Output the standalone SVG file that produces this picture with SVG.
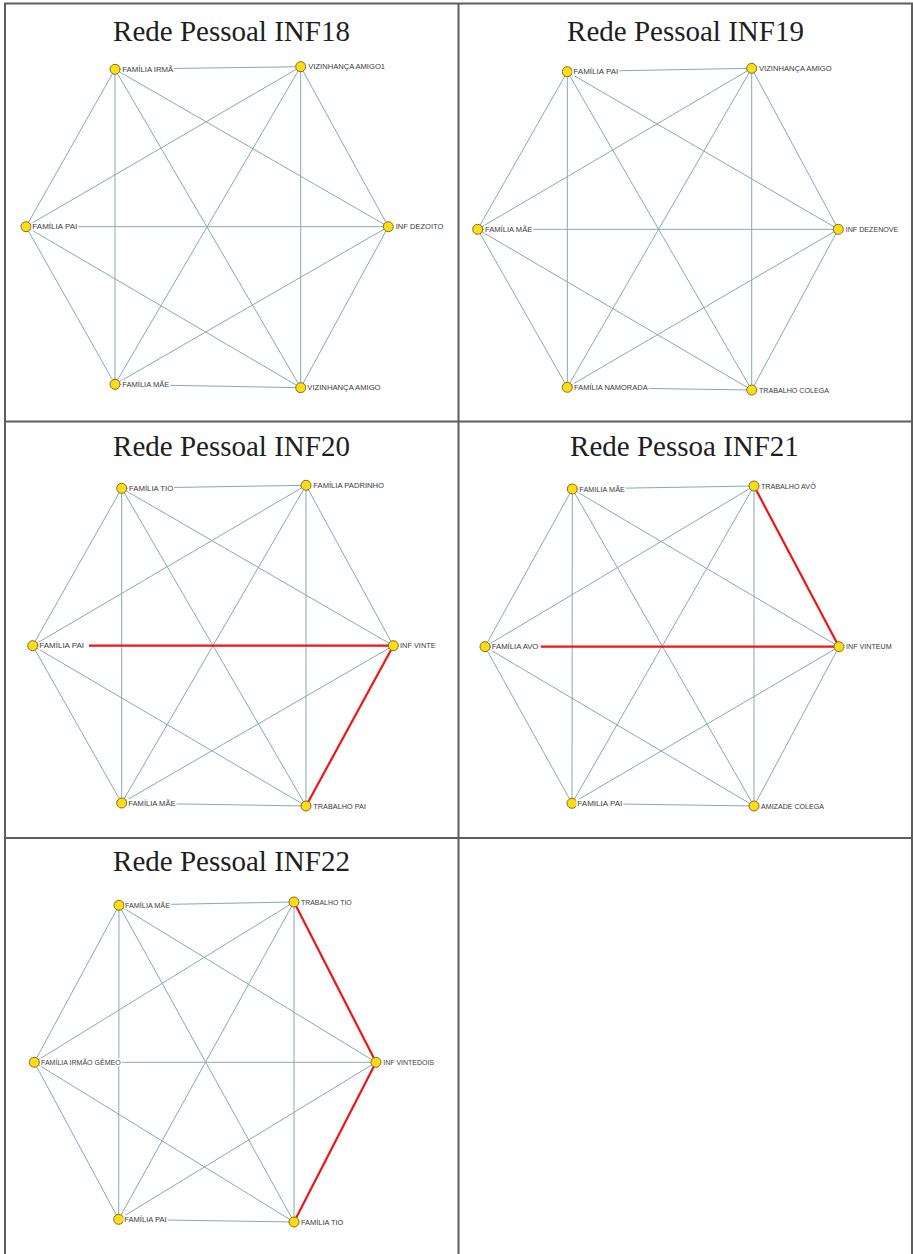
<svg xmlns="http://www.w3.org/2000/svg" width="913" height="1254" viewBox="0 0 913 1254">
<style>
.bg{fill:#ffffff}
.b{stroke:#5e5e5e;stroke-width:2;fill:none}
.t{font-family:"Liberation Serif","Times New Roman",serif;font-size:29px;fill:#1e1e1e;text-anchor:middle}
.e{stroke:#86aab3;stroke-width:1;fill:none}
.r{stroke:#ee1515;stroke-width:2.2;fill:none}
.n{fill:#ffdd10;stroke:#7d6d2c;stroke-width:1}
.lb{fill:#ffffff}
.lt{font-family:"Liberation Sans",Arial,sans-serif;font-size:7px;fill:#3a3a3a}
</style>
<rect class="bg" x="0" y="0" width="913" height="1254"/>

<g id="panel-inf18">
<text class="t" x="231.5" y="40.5">Rede Pessoal INF18</text>
<g id="inf18-connectors">
<line class="e" x1="115" y1="69.3" x2="300.7" y2="66.7"/>
<line class="e" x1="115" y1="69.3" x2="26" y2="226.7"/>
<line class="e" x1="115" y1="69.3" x2="388.3" y2="226.7"/>
<line class="e" x1="115" y1="69.3" x2="115" y2="384.3"/>
<line class="e" x1="115" y1="69.3" x2="300.7" y2="387.7"/>
<line class="e" x1="300.7" y1="66.7" x2="26" y2="226.7"/>
<line class="e" x1="300.7" y1="66.7" x2="388.3" y2="226.7"/>
<line class="e" x1="300.7" y1="66.7" x2="115" y2="384.3"/>
<line class="e" x1="300.7" y1="66.7" x2="300.7" y2="387.7"/>
<line class="e" x1="26" y1="226.7" x2="388.3" y2="226.7"/>
<line class="e" x1="26" y1="226.7" x2="115" y2="384.3"/>
<line class="e" x1="26" y1="226.7" x2="300.7" y2="387.7"/>
<line class="e" x1="388.3" y1="226.7" x2="115" y2="384.3"/>
<line class="e" x1="388.3" y1="226.7" x2="300.7" y2="387.7"/>
<line class="e" x1="115" y1="384.3" x2="300.7" y2="387.7"/>
</g>
<g id="inf18-familia-irma"><circle class="n" cx="115" cy="69.3" r="5"/><rect class="lb" x="121.3" y="65.3" width="53" height="8"/><text class="lt" x="122.3" y="71.8" textLength="51" lengthAdjust="spacingAndGlyphs">FAMÍLIA IRMÃ</text></g>
<g id="inf18-vizinhanca-amigo1"><circle class="n" cx="300.7" cy="66.7" r="5"/><rect class="lb" x="307.3" y="62.7" width="78.7" height="8"/><text class="lt" x="308.3" y="69.2" textLength="76.7" lengthAdjust="spacingAndGlyphs">VIZINHANÇA AMIGO1</text></g>
<g id="inf18-familia-pai"><circle class="n" cx="26" cy="226.7" r="5"/><rect class="lb" x="31.3" y="222.7" width="47" height="8"/><text class="lt" x="32.3" y="229.2" textLength="45" lengthAdjust="spacingAndGlyphs">FAMÍLIA PAI</text></g>
<g id="inf18-inf-dezoito"><circle class="n" cx="388.3" cy="226.7" r="5"/><rect class="lb" x="394.7" y="222.7" width="49.7" height="8"/><text class="lt" x="395.7" y="229.2" textLength="47.7" lengthAdjust="spacingAndGlyphs">INF DEZOITO</text></g>
<g id="inf18-familia-mae"><circle class="n" cx="115" cy="384.3" r="5"/><rect class="lb" x="121.3" y="380.3" width="49" height="8"/><text class="lt" x="122.3" y="386.8" textLength="47" lengthAdjust="spacingAndGlyphs">FAMÍLIA MÃE</text></g>
<g id="inf18-vizinhanca-amigo"><circle class="n" cx="300.7" cy="387.7" r="5"/><rect class="lb" x="306.3" y="383.7" width="75.3" height="8"/><text class="lt" x="307.3" y="390.2" textLength="73.3" lengthAdjust="spacingAndGlyphs">VIZINHANÇA AMIGO</text></g>
</g>

<g id="panel-inf19">
<text class="t" x="685.5" y="40.5">Rede Pessoal INF19</text>
<g id="inf19-connectors">
<line class="e" x1="567.3" y1="71.7" x2="751.7" y2="68.3"/>
<line class="e" x1="567.3" y1="71.7" x2="477.7" y2="229.3"/>
<line class="e" x1="567.3" y1="71.7" x2="838.3" y2="229.3"/>
<line class="e" x1="567.3" y1="71.7" x2="567.3" y2="387.3"/>
<line class="e" x1="567.3" y1="71.7" x2="751.7" y2="390"/>
<line class="e" x1="751.7" y1="68.3" x2="477.7" y2="229.3"/>
<line class="e" x1="751.7" y1="68.3" x2="838.3" y2="229.3"/>
<line class="e" x1="751.7" y1="68.3" x2="567.3" y2="387.3"/>
<line class="e" x1="751.7" y1="68.3" x2="751.7" y2="390"/>
<line class="e" x1="477.7" y1="229.3" x2="838.3" y2="229.3"/>
<line class="e" x1="477.7" y1="229.3" x2="567.3" y2="387.3"/>
<line class="e" x1="477.7" y1="229.3" x2="751.7" y2="390"/>
<line class="e" x1="838.3" y1="229.3" x2="567.3" y2="387.3"/>
<line class="e" x1="838.3" y1="229.3" x2="751.7" y2="390"/>
<line class="e" x1="567.3" y1="387.3" x2="751.7" y2="390"/>
</g>
<g id="inf19-familia-pai"><circle class="n" cx="567.3" cy="71.7" r="5"/><rect class="lb" x="572.3" y="67.7" width="47" height="8"/><text class="lt" x="573.3" y="74.2" textLength="45" lengthAdjust="spacingAndGlyphs">FAMÍLIA PAI</text></g>
<g id="inf19-vizinhanca-amigo"><circle class="n" cx="751.7" cy="68.3" r="5"/><rect class="lb" x="758" y="64.3" width="74.7" height="8"/><text class="lt" x="759" y="70.8" textLength="72.7" lengthAdjust="spacingAndGlyphs">VIZINHANÇA AMIGO</text></g>
<g id="inf19-familia-mae"><circle class="n" cx="477.7" cy="229.3" r="5"/><rect class="lb" x="484" y="225.3" width="49.3" height="8"/><text class="lt" x="485" y="231.8" textLength="47.3" lengthAdjust="spacingAndGlyphs">FAMÍLIA MÃE</text></g>
<g id="inf19-inf-dezenove"><circle class="n" cx="838.3" cy="229.3" r="5"/><rect class="lb" x="844.7" y="225.3" width="54.7" height="8"/><text class="lt" x="845.7" y="231.8" textLength="52.7" lengthAdjust="spacingAndGlyphs">INF DEZENOVE</text></g>
<g id="inf19-familia-namorada"><circle class="n" cx="567.3" cy="387.3" r="5"/><rect class="lb" x="573" y="383.3" width="75.7" height="8"/><text class="lt" x="574" y="389.8" textLength="73.7" lengthAdjust="spacingAndGlyphs">FAMÍLIA NAMORADA</text></g>
<g id="inf19-trabalho-colega"><circle class="n" cx="751.7" cy="390" r="5"/><rect class="lb" x="758" y="386" width="72" height="8"/><text class="lt" x="759" y="392.5" textLength="70" lengthAdjust="spacingAndGlyphs">TRABALHO COLEGA</text></g>
</g>

<g id="panel-inf20">
<text class="t" x="231.5" y="455.7">Rede Pessoal INF20</text>
<g id="inf20-connectors">
<line class="e" x1="121.7" y1="488.3" x2="306" y2="485.3"/>
<line class="e" x1="121.7" y1="488.3" x2="32.7" y2="645.7"/>
<line class="e" x1="121.7" y1="488.3" x2="393.3" y2="645.7"/>
<line class="e" x1="121.7" y1="488.3" x2="121.7" y2="803"/>
<line class="e" x1="121.7" y1="488.3" x2="306" y2="806"/>
<line class="e" x1="306" y1="485.3" x2="32.7" y2="645.7"/>
<line class="e" x1="306" y1="485.3" x2="393.3" y2="645.7"/>
<line class="e" x1="306" y1="485.3" x2="121.7" y2="803"/>
<line class="e" x1="306" y1="485.3" x2="306" y2="806"/>
<line class="e" x1="32.7" y1="645.7" x2="121.7" y2="803"/>
<line class="e" x1="32.7" y1="645.7" x2="306" y2="806"/>
<line class="e" x1="393.3" y1="645.7" x2="121.7" y2="803"/>
<line class="e" x1="121.7" y1="803" x2="306" y2="806"/>
<line class="r" x1="32.7" y1="645.7" x2="393.3" y2="645.7"/>
<line class="r" x1="393.3" y1="645.7" x2="306" y2="806"/>
</g>
<g id="inf20-familia-tio"><circle class="n" cx="121.7" cy="488.3" r="5"/><rect class="lb" x="128" y="484.3" width="46.3" height="8"/><text class="lt" x="129" y="490.8" textLength="44.3" lengthAdjust="spacingAndGlyphs">FAMÍLIA TIO</text></g>
<g id="inf20-familia-padrinho"><circle class="n" cx="306" cy="485.3" r="5"/><rect class="lb" x="312.3" y="481.3" width="72.7" height="8"/><text class="lt" x="313.3" y="487.8" textLength="70.7" lengthAdjust="spacingAndGlyphs">FAMÍLIA PADRINHO</text></g>
<g id="inf20-familia-pai"><circle class="n" cx="32.7" cy="645.7" r="5"/><rect class="lb" x="38.3" y="641.7" width="50.7" height="8"/><text class="lt" x="39.3" y="648.2" textLength="44.7" lengthAdjust="spacingAndGlyphs">FAMÍLIA PAI</text></g>
<g id="inf20-inf-vinte"><circle class="n" cx="393.3" cy="645.7" r="5"/><rect class="lb" x="399" y="641.7" width="37.7" height="8"/><text class="lt" x="400" y="648.2" textLength="35.7" lengthAdjust="spacingAndGlyphs">INF VINTE</text></g>
<g id="inf20-familia-mae"><circle class="n" cx="121.7" cy="803" r="5"/><rect class="lb" x="127.3" y="799" width="49.3" height="8"/><text class="lt" x="128.3" y="805.5" textLength="47.3" lengthAdjust="spacingAndGlyphs">FAMÍLIA MÃE</text></g>
<g id="inf20-trabalho-pai"><circle class="n" cx="306" cy="806" r="5"/><rect class="lb" x="312.3" y="802" width="54.7" height="8"/><text class="lt" x="313.3" y="808.5" textLength="52.7" lengthAdjust="spacingAndGlyphs">TRABALHO PAI</text></g>
</g>

<g id="panel-inf21">
<text class="t" x="684.5" y="455.7">Rede Pessoa INF21</text>
<g id="inf21-connectors">
<line class="e" x1="572.3" y1="489" x2="754" y2="486"/>
<line class="e" x1="572.3" y1="489" x2="485" y2="646.7"/>
<line class="e" x1="572.3" y1="489" x2="839" y2="646.7"/>
<line class="e" x1="572.3" y1="489" x2="572" y2="803.3"/>
<line class="e" x1="572.3" y1="489" x2="754" y2="806"/>
<line class="e" x1="754" y1="486" x2="485" y2="646.7"/>
<line class="e" x1="754" y1="486" x2="572" y2="803.3"/>
<line class="e" x1="754" y1="486" x2="754" y2="806"/>
<line class="e" x1="485" y1="646.7" x2="572" y2="803.3"/>
<line class="e" x1="485" y1="646.7" x2="754" y2="806"/>
<line class="e" x1="839" y1="646.7" x2="572" y2="803.3"/>
<line class="e" x1="839" y1="646.7" x2="754" y2="806"/>
<line class="e" x1="572" y1="803.3" x2="754" y2="806"/>
<line class="r" x1="754" y1="486" x2="839" y2="646.7"/>
<line class="r" x1="485" y1="646.7" x2="839" y2="646.7"/>
</g>
<g id="inf21-familia-mae"><circle class="n" cx="572.3" cy="489" r="5"/><rect class="lb" x="578.3" y="485" width="47.7" height="8"/><text class="lt" x="579.3" y="491.5" textLength="45.7" lengthAdjust="spacingAndGlyphs">FAMILIA MÃE</text></g>
<g id="inf21-trabalho-avo"><circle class="n" cx="754" cy="486" r="5"/><rect class="lb" x="760" y="482" width="56.7" height="8"/><text class="lt" x="761" y="488.5" textLength="54.7" lengthAdjust="spacingAndGlyphs">TRABALHO AVÔ</text></g>
<g id="inf21-familia-avo"><circle class="n" cx="485" cy="646.7" r="5"/><rect class="lb" x="490.7" y="642.7" width="50" height="8"/><text class="lt" x="491.7" y="649.2" textLength="46.7" lengthAdjust="spacingAndGlyphs">FAMÍLIA AVO</text></g>
<g id="inf21-inf-vinteum"><circle class="n" cx="839" cy="646.7" r="5"/><rect class="lb" x="845" y="642.7" width="47.7" height="8"/><text class="lt" x="846" y="649.2" textLength="45.7" lengthAdjust="spacingAndGlyphs">INF VINTEUM</text></g>
<g id="inf21-familia-pai"><circle class="n" cx="572" cy="803.3" r="5"/><rect class="lb" x="576.3" y="799.3" width="47" height="8"/><text class="lt" x="577.3" y="805.8" textLength="45" lengthAdjust="spacingAndGlyphs">FAMILIA PAI</text></g>
<g id="inf21-amizade-colega"><circle class="n" cx="754" cy="806" r="5"/><rect class="lb" x="760" y="802" width="65" height="8"/><text class="lt" x="761" y="808.5" textLength="63" lengthAdjust="spacingAndGlyphs">AMIZADE COLEGA</text></g>
</g>

<g id="panel-inf22">
<text class="t" x="231.5" y="871">Rede Pessoal INF22</text>
<g id="inf22-connectors">
<line class="e" x1="119" y1="905.3" x2="294" y2="902"/>
<line class="e" x1="119" y1="905.3" x2="34.3" y2="1062.3"/>
<line class="e" x1="119" y1="905.3" x2="376" y2="1062.3"/>
<line class="e" x1="119" y1="905.3" x2="118.7" y2="1219.3"/>
<line class="e" x1="119" y1="905.3" x2="294" y2="1222"/>
<line class="e" x1="294" y1="902" x2="34.3" y2="1062.3"/>
<line class="e" x1="294" y1="902" x2="118.7" y2="1219.3"/>
<line class="e" x1="294" y1="902" x2="294" y2="1222"/>
<line class="e" x1="34.3" y1="1062.3" x2="376" y2="1062.3"/>
<line class="e" x1="34.3" y1="1062.3" x2="118.7" y2="1219.3"/>
<line class="e" x1="34.3" y1="1062.3" x2="294" y2="1222"/>
<line class="e" x1="376" y1="1062.3" x2="118.7" y2="1219.3"/>
<line class="e" x1="118.7" y1="1219.3" x2="294" y2="1222"/>
<line class="r" x1="294" y1="902" x2="376" y2="1062.3"/>
<line class="r" x1="376" y1="1062.3" x2="294" y2="1222"/>
</g>
<g id="inf22-familia-mae"><circle class="n" cx="119" cy="905.3" r="5"/><rect class="lb" x="124" y="901.3" width="47" height="8"/><text class="lt" x="125" y="907.8" textLength="45" lengthAdjust="spacingAndGlyphs">FAMÍLIA MÃE</text></g>
<g id="inf22-trabalho-tio"><circle class="n" cx="294" cy="902" r="5"/><rect class="lb" x="300" y="898" width="52.7" height="8"/><text class="lt" x="301" y="904.5" textLength="50.7" lengthAdjust="spacingAndGlyphs">TRABALHO TIO</text></g>
<g id="inf22-familia-irmao-gemeo"><circle class="n" cx="34.3" cy="1062.3" r="5"/><rect class="lb" x="40" y="1058.3" width="81.7" height="8"/><text class="lt" x="41" y="1064.8" textLength="79.7" lengthAdjust="spacingAndGlyphs">FAMÍLIA IRMÃO GÊMEO</text></g>
<g id="inf22-inf-vintedois"><circle class="n" cx="376" cy="1062.3" r="5"/><rect class="lb" x="382.3" y="1058.3" width="52.7" height="8"/><text class="lt" x="383.3" y="1064.8" textLength="50.7" lengthAdjust="spacingAndGlyphs">INF VINTEDOIS</text></g>
<g id="inf22-familia-pai"><circle class="n" cx="118.7" cy="1219.3" r="5"/><rect class="lb" x="123.3" y="1215.3" width="44.3" height="8"/><text class="lt" x="124.3" y="1221.8" textLength="42.3" lengthAdjust="spacingAndGlyphs">FAMÍLIA PAI</text></g>
<g id="inf22-familia-tio"><circle class="n" cx="294" cy="1222" r="5"/><rect class="lb" x="300" y="1218" width="44.3" height="8"/><text class="lt" x="301" y="1224.5" textLength="42.3" lengthAdjust="spacingAndGlyphs">FAMÍLIA TIO</text></g>
</g>

<g id="table-borders">
<line class="b" x1="5" y1="3" x2="5" y2="1254"/>
<line class="b" x1="458.5" y1="3" x2="458.5" y2="1254"/>
<line class="b" x1="912" y1="3" x2="912" y2="1254"/>
<line class="b" x1="4" y1="3.5" x2="913" y2="3.5"/>
<line class="b" x1="4" y1="421.5" x2="913" y2="421.5"/>
<line class="b" x1="4" y1="838" x2="913" y2="838"/>
</g>
</svg>
